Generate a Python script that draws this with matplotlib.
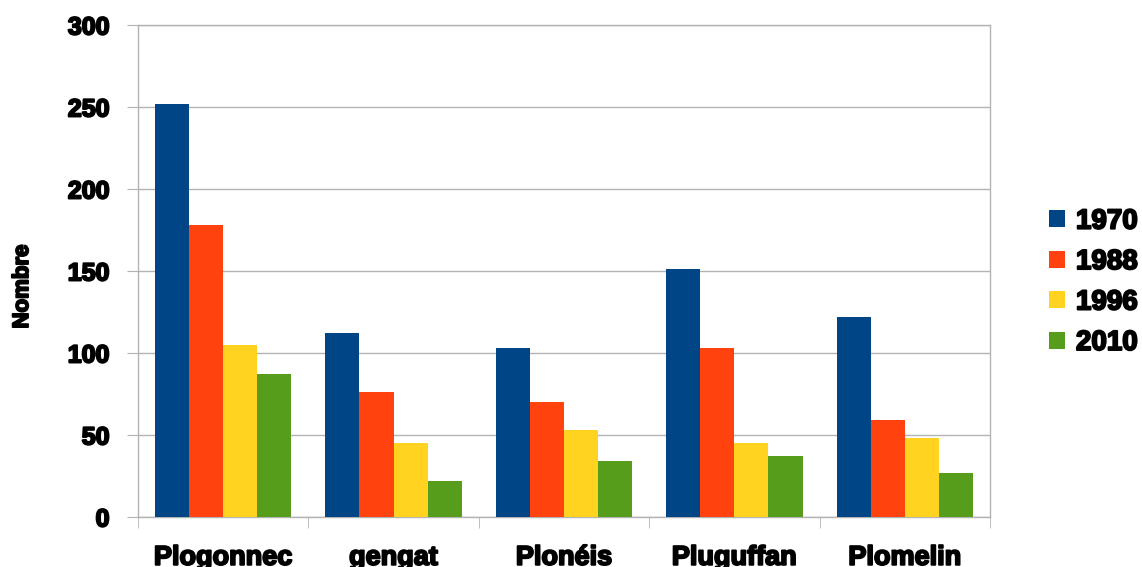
import numpy as np
import matplotlib.pyplot as plt
import matplotlib.patheffects as pe
from matplotlib.patches import Patch


communes = ['Plogonnec', 'gengat', 'Plonéis', 'Pluguffan', 'Plomelin']
years = ['1970', '1988', '1996', '2010']
n1970 = [252, 112, 103, 151, 122]
n1988 = [178, 76, 70, 103, 59]
n1996 = [105, 45, 53, 45, 48]
n2010 = [87, 22, 34, 37, 27]
colors = ['#004586', '#ff420e', '#ffd320', '#579d1c']

plt.rcParams['font.family'] = ['Liberation Sans', 'DejaVu Sans']
plt.rcParams['font.weight'] = 'bold'

grid_col = '#b3b3b3'
# heavier strokes for the black labels
heavy = [pe.withStroke(linewidth=1.4, foreground='black')]

fig = plt.figure(figsize=(11.42, 5.67), dpi=100)
ax = fig.add_axes([0.1208, 0.0882, 0.7461, 0.8677])

x = np.arange(len(communes))
w = 0.2
for i, vals in enumerate([n1970, n1988, n1996, n2010]):
    ax.bar(x - 0.3 + i*w, vals, width=w, color=colors[i], zorder=3)

ax.set_xlim(-0.5, len(communes) - 0.5)
ax.set_ylim(0, 300)
ax.set_yticks(np.arange(0, 301, 50))
ax.yaxis.grid(True, color=grid_col, linewidth=1, zorder=0)

ax.set_xticks(x)
ax.set_xticklabels(communes, fontsize=19.5, fontweight='bold')
ax.set_xticks(np.arange(-0.5, len(communes)), minor=True)
ax.tick_params(axis='x', which='major', length=0, pad=20)
ax.tick_params(axis='x', which='minor', length=8, color=grid_col)
ax.tick_params(axis='y', length=8, color=grid_col, pad=12.5, labelsize=18)
for lab in ax.get_xticklabels() + ax.get_yticklabels():
    lab.set_fontweight('bold')
    lab.set_path_effects(heavy)

for sp in ax.spines.values():
    sp.set_color(grid_col)
    sp.set_linewidth(1)

fig.text(22.5/1142, 0.4947, 'Nombre', rotation=90, ha='center', va='center',
         fontsize=16, fontweight='bold', path_effects=heavy)

handles = [Patch(facecolor=c, edgecolor='none') for c in colors]
leg = fig.legend(handles, years, loc='upper left', bbox_to_anchor=(1049/1142, 0.632),
                 frameon=False, borderpad=0, borderaxespad=0,
                 handlelength=0.57, handleheight=0.57, handletextpad=0.4,
                 labelspacing=0.52, prop={'weight': 'bold', 'size': 20})
for t in leg.get_texts():
    t.set_path_effects(heavy)

fig.savefig('out.png', dpi=100)
